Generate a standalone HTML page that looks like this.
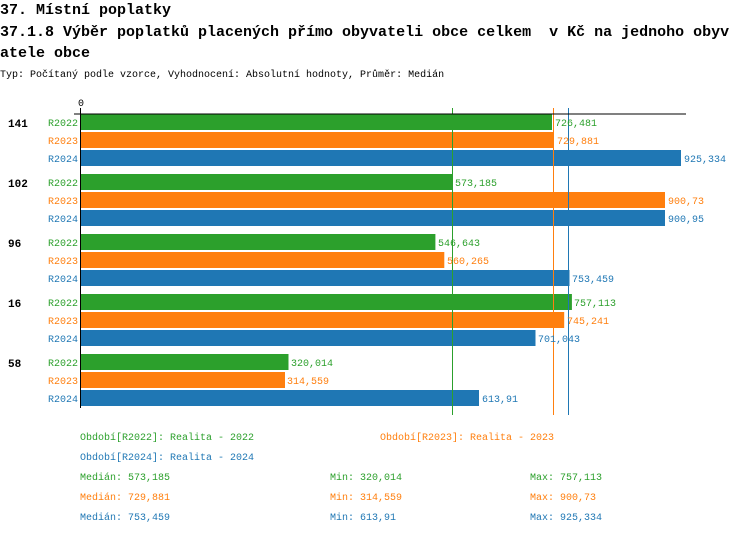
<!DOCTYPE html>
<html><head><meta charset="utf-8"><style>
body{margin:0;background:#fff;width:750px;height:534px;overflow:hidden;font-family:"Liberation Mono",monospace}
</style></head><body>
<svg width="750" height="534" xmlns="http://www.w3.org/2000/svg" font-family="Liberation Mono, monospace">
<g font-size="15" font-weight="bold" fill="#000">
<text x="0" y="14">37. Místní poplatky</text>
<text x="0" y="36" style="white-space:pre" xml:space="preserve">37.1.8 Výběr poplatků placených přímo obyvateli obce celkem  v Kč na jednoho obyv</text>
<text x="0" y="57">atele obce</text>
</g>
<text x="0" y="77" font-size="10">Typ: Počítaný podle vzorce, Vyhodnocení: Absolutní hodnoty, Průměr: Medián</text>
<text x="78" y="106" font-size="10">0</text>
<g font-size="10">
<rect x="81" y="114" width="471" height="16" fill="#2ca02c"/>
<rect x="81" y="132" width="473" height="16" fill="#ff7f0e"/>
<rect x="81" y="150" width="600" height="16" fill="#1f77b4"/>
<rect x="81" y="174" width="371.6" height="16" fill="#2ca02c"/>
<rect x="81" y="192" width="584" height="16" fill="#ff7f0e"/>
<rect x="81" y="210" width="584" height="16" fill="#1f77b4"/>
<rect x="81" y="234" width="354.4" height="16" fill="#2ca02c"/>
<rect x="81" y="252" width="363.3" height="16" fill="#ff7f0e"/>
<rect x="81" y="270" width="488.5" height="16" fill="#1f77b4"/>
<rect x="81" y="294" width="490.9" height="16" fill="#2ca02c"/>
<rect x="81" y="312" width="483.2" height="16" fill="#ff7f0e"/>
<rect x="81" y="330" width="454.5" height="16" fill="#1f77b4"/>
<rect x="81" y="354" width="207.5" height="16" fill="#2ca02c"/>
<rect x="81" y="372" width="204" height="16" fill="#ff7f0e"/>
<rect x="81" y="390" width="398" height="16" fill="#1f77b4"/>
</g>
<line x1="452.5" y1="108" x2="452.5" y2="415" stroke="#2ca02c" stroke-width="1"/>
<line x1="553.5" y1="108" x2="553.5" y2="415" stroke="#ff7f0e" stroke-width="1"/>
<line x1="568.5" y1="108" x2="568.5" y2="415" stroke="#1f77b4" stroke-width="1"/>
<line x1="74" y1="114" x2="686" y2="114" stroke="#000" stroke-width="1"/>
<line x1="80.5" y1="108" x2="80.5" y2="408" stroke="#000" stroke-width="1"/>
<g font-size="11" font-weight="bold">
<text x="8" y="127">141</text><text x="8" y="187">102</text><text x="8" y="247">96</text><text x="8" y="307">16</text><text x="8" y="367">58</text>
</g>
<g font-size="10" text-anchor="end">
<g fill="#2ca02c"><text x="78" y="126">R2022</text><text x="78" y="186">R2022</text><text x="78" y="246">R2022</text><text x="78" y="306">R2022</text><text x="78" y="366">R2022</text></g>
<g fill="#ff7f0e"><text x="78" y="144">R2023</text><text x="78" y="204">R2023</text><text x="78" y="264">R2023</text><text x="78" y="324">R2023</text><text x="78" y="384">R2023</text></g>
<g fill="#1f77b4"><text x="78" y="162">R2024</text><text x="78" y="222">R2024</text><text x="78" y="282">R2024</text><text x="78" y="342">R2024</text><text x="78" y="402">R2024</text></g>
</g>
<g font-size="10">
<text x="555" y="126" fill="#2ca02c">726,481</text>
<text x="557" y="144" fill="#ff7f0e">729,881</text>
<text x="684" y="162" fill="#1f77b4">925,334</text>
<text x="455" y="186" fill="#2ca02c">573,185</text>
<text x="668" y="204" fill="#ff7f0e">900,73</text>
<text x="668" y="222" fill="#1f77b4">900,95</text>
<text x="438" y="246" fill="#2ca02c">546,643</text>
<text x="447" y="264" fill="#ff7f0e">560,265</text>
<text x="572" y="282" fill="#1f77b4">753,459</text>
<text x="574" y="306" fill="#2ca02c">757,113</text>
<text x="567" y="324" fill="#ff7f0e">745,241</text>
<text x="538" y="342" fill="#1f77b4">701,043</text>
<text x="291" y="366" fill="#2ca02c">320,014</text>
<text x="287" y="384" fill="#ff7f0e">314,559</text>
<text x="482" y="402" fill="#1f77b4">613,91</text>
</g>
<g font-size="10">
<text x="80" y="440" fill="#2ca02c">Období[R2022]: Realita - 2022</text>
<text x="380" y="440" fill="#ff7f0e">Období[R2023]: Realita - 2023</text>
<text x="80" y="460" fill="#1f77b4">Období[R2024]: Realita - 2024</text>
<text x="80" y="480" fill="#2ca02c">Medián: 573,185</text>
<text x="330" y="480" fill="#2ca02c">Min: 320,014</text>
<text x="530" y="480" fill="#2ca02c">Max: 757,113</text>
<text x="80" y="500" fill="#ff7f0e">Medián: 729,881</text>
<text x="330" y="500" fill="#ff7f0e">Min: 314,559</text>
<text x="530" y="500" fill="#ff7f0e">Max: 900,73</text>
<text x="80" y="520" fill="#1f77b4">Medián: 753,459</text>
<text x="330" y="520" fill="#1f77b4">Min: 613,91</text>
<text x="530" y="520" fill="#1f77b4">Max: 925,334</text>
</g>
</svg>
</body></html>
